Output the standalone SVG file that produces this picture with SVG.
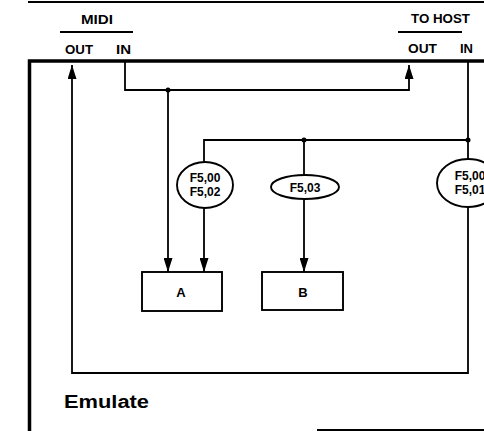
<svg xmlns="http://www.w3.org/2000/svg" width="484" height="431" viewBox="0 0 484 431">
<style>
.t{font-family:"Liberation Sans",Arial,sans-serif;font-weight:bold;fill:#000}
.ln{fill:none;stroke:#000;stroke-width:1.8}
.frame{fill:none;stroke:#000;stroke-width:3.5}
.node{fill:#fff;stroke:#000;stroke-width:1.9}
.dot{fill:#000}
</style>
<defs>
<marker id="ah" viewBox="0 0 14 9" refX="14" refY="4.5" markerWidth="14" markerHeight="9" markerUnits="userSpaceOnUse" orient="auto">
<path d="M0,0 L14,4.5 L0,9 Z" fill="#000"/>
</marker>
</defs>
<rect width="484" height="431" fill="#fff"/>
<g id="frame">
<line x1="28" y1="2" x2="484" y2="2" stroke="#000" stroke-width="2"/>
<path class="frame" d="M29.5,431 V61 H484"/>
<line x1="317" y1="430" x2="484" y2="430" stroke="#000" stroke-width="2"/>
</g>
<g id="midi-port">
<text class="t" x="81" y="24" font-size="13" textLength="32" lengthAdjust="spacingAndGlyphs">MIDI</text>
<line x1="60" y1="32" x2="133" y2="32" stroke="#000" stroke-width="1.8"/>
<text class="t" x="65" y="54" font-size="12" textLength="28" lengthAdjust="spacingAndGlyphs">OUT</text>
<text class="t" x="116" y="54" font-size="12" textLength="15" lengthAdjust="spacingAndGlyphs">IN</text>
</g>
<g id="host-port">
<text class="t" x="411" y="23" font-size="13" textLength="59" lengthAdjust="spacingAndGlyphs">TO HOST</text>
<line x1="398" y1="32" x2="462" y2="32" stroke="#000" stroke-width="1.8"/>
<text class="t" x="408" y="53" font-size="12" textLength="29" lengthAdjust="spacingAndGlyphs">OUT</text>
<text class="t" x="460" y="53" font-size="12" textLength="13" lengthAdjust="spacingAndGlyphs">IN</text>
</g>
<g id="connectors">
<path class="ln" d="M468,61 V373 H72 V65" marker-end="url(#ah)"/>
<path class="ln" d="M125,61 V90 H409 V65" marker-end="url(#ah)"/>
<path class="ln" d="M168,90 V272" marker-end="url(#ah)"/>
<path class="ln" d="M204,162 V140 H468"/>
<path class="ln" d="M204,208 V272" marker-end="url(#ah)"/>
<path class="ln" d="M304,140 V176"/>
<path class="ln" d="M304,198 V272" marker-end="url(#ah)"/>
<circle class="dot" cx="168" cy="90" r="2.5"/>
<circle class="dot" cx="304" cy="140" r="2.5"/>
<circle class="dot" cx="468" cy="140" r="2.5"/>
</g>
<g id="filter-a">
<ellipse class="node" cx="205" cy="185" rx="28" ry="23"/>
<text class="t" x="205" y="182" font-size="12" text-anchor="middle">F5,00</text>
<text class="t" x="205" y="196" font-size="12" text-anchor="middle">F5,02</text>
</g>
<g id="filter-b">
<ellipse class="node" cx="305" cy="187" rx="34" ry="12"/>
<text class="t" x="305" y="192" font-size="12" text-anchor="middle">F5,03</text>
</g>
<g id="filter-host">
<ellipse class="node" cx="468" cy="183" rx="31" ry="24"/>
<text class="t" x="470" y="180" font-size="12" text-anchor="middle">F5,00</text>
<text class="t" x="470" y="194" font-size="12" text-anchor="middle">F5,01</text>
</g>
<g id="node-a">
<rect class="node" x="142" y="272" width="80" height="39"/>
<text class="t" x="181" y="297" font-size="13" text-anchor="middle">A</text>
</g>
<g id="node-b">
<rect class="node" x="262" y="272" width="81" height="38"/>
<text class="t" x="303" y="297" font-size="13" text-anchor="middle">B</text>
</g>
<g id="title">
<text class="t" x="64" y="408" font-size="18" textLength="85" lengthAdjust="spacingAndGlyphs">Emulate</text>
</g>
</svg>
